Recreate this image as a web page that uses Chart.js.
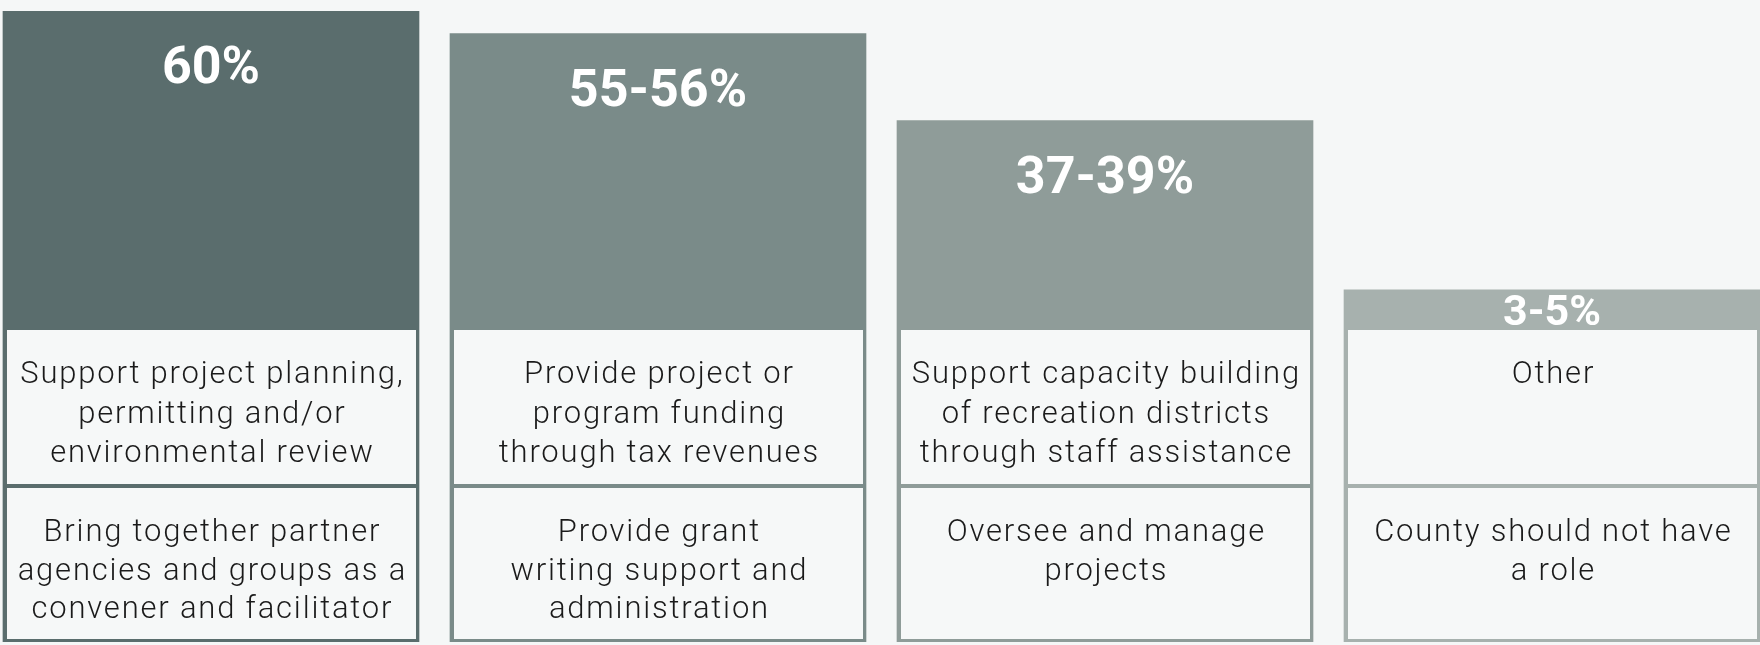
<!DOCTYPE html>
<html>
<head>
<meta charset="utf-8">
<script src="https://cdn.jsdelivr.net/npm/chart.js@4/dist/chart.umd.min.js"></script>
<style>
  html, body { margin: 0; padding: 0; background: #f5f7f7; }
  #wrap { position: relative; width: 1760px; height: 642px; }
</style>
</head>
<body>
<div id="wrap"><canvas id="c"></canvas></div>
<script>
// ---- data ----
const values = [60, 55.5, 38, 4];
const valueLabels = ["60%", "55-56%", "37-39%", "3-5%"];
const topLabels = [
  ["Support project planning,", "permitting and/or", "environmental review"],
  ["Provide project or", "program funding", "through tax revenues"],
  ["Support capacity building", "of recreation districts", "through staff assistance"],
  ["Other"]
];
const bottomLabels = [
  ["Bring together partner", "agencies and groups as a", "convener and facilitator"],
  ["Provide grant", "writing support and", "administration"],
  ["Oversee and manage", "projects"],
  ["County should not have", "a role"]
];
const positions = [0, 1, 2, 3];

// ---- style / layout ----
const barColors = ["#5a6d6d", "#7a8b89", "#8f9c99", "#a7b1ae"];
const CELL_BG = "#f6f8f8";
const Y_MIN = -66.8, Y_MAX = 62.26;
const TABLE_TOP = 330, DIVIDER_TOP = 484, DIVIDER_H = 4, BOTTOM_FRAME = 3;
const LS = 1.8;

const tablePlugin = {
  id: 'tablePlugin',
  afterDatasetsDraw(chart) {
    const ctx = chart.ctx;
    const meta = chart.getDatasetMeta(0);
    const bottom = chart.chartArea.bottom;
    meta.data.forEach((bar, i) => {
      const left = bar.x - bar.width / 2;
      const w = bar.width;
      ctx.save();
      ctx.fillStyle = CELL_BG;
      ctx.fillRect(left + 4, TABLE_TOP, w - 7, DIVIDER_TOP - TABLE_TOP);
      const c2 = DIVIDER_TOP + DIVIDER_H;
      ctx.fillRect(left + 4, c2, w - 7, bottom - BOTTOM_FRAME - c2);
      // cell texts
      ctx.fillStyle = "#1a1a1a";
      ctx.textAlign = "center";
      ctx.textBaseline = "alphabetic";
      ctx.font = "300 31px 'Roboto Light', Roboto";
      if ('letterSpacing' in ctx) ctx.letterSpacing = LS + "px";
      const cx = bar.x + 0.5 + LS / 2;
      topLabels[i].forEach((line, j) => ctx.fillText(line, cx, TABLE_TOP + 53 + j * 39.5));
      bottomLabels[i].forEach((line, j) => ctx.fillText(line, cx, c2 + 53 + j * 38.5));
      if ('letterSpacing' in ctx) ctx.letterSpacing = "0px";
      // value label
      ctx.fillStyle = "#ffffff";
      const strip = TABLE_TOP - bar.y;
      if (strip > 100) {
        ctx.font = "bold 52px Roboto";
        ctx.fillText(valueLabels[i], bar.x, bar.y + 72);
      } else {
        ctx.font = "bold 43px Roboto";
        ctx.fillText(valueLabels[i], bar.x, bar.y + strip / 2 + 15.5);
      }
      ctx.restore();
    });
  }
};

new Chart(document.getElementById('c'), {
  type: 'bar',
  data: {
    datasets: [{
      data: positions.map((p, i) => ({ x: p, y: values[i] })),
      backgroundColor: barColors,
      borderWidth: 0,
      barThickness: 416,
      base: Y_MIN
    }]
  },
  options: {
    responsive: true,
    maintainAspectRatio: false,
    animation: false,
    layout: { padding: 0 },
    plugins: { legend: { display: false }, tooltip: { enabled: false } },
    scales: {
      x: { type: 'linear', min: -0.472, max: 3.4653, display: false, offset: false },
      y: { type: 'linear', min: Y_MIN, max: Y_MAX, display: false }
    }
  },
  plugins: [tablePlugin]
});
</script>
</body>
</html>
